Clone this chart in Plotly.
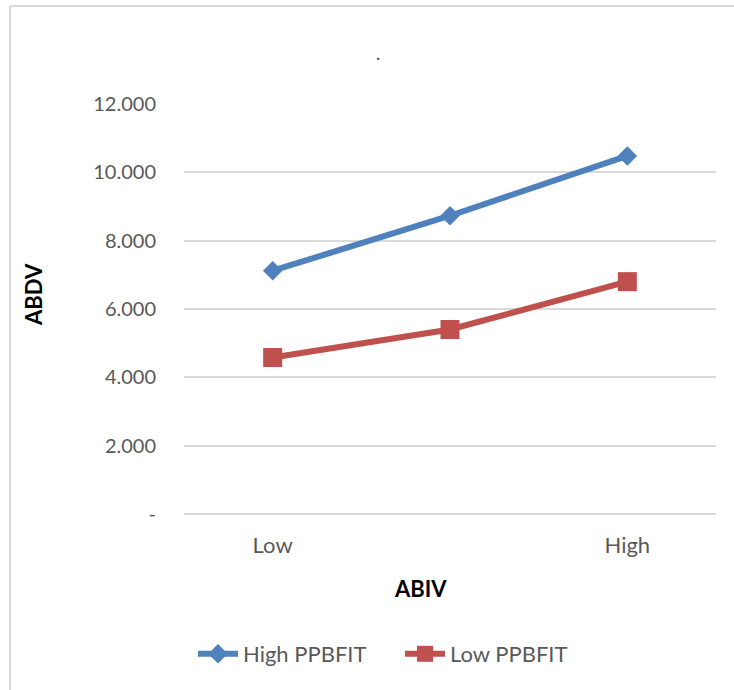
import plotly.graph_objects as go

categories = ["Low", "", "High"]
x_positions = [0, 1, 2]
high_ppbfit = [7.12, 8.73, 10.48]
low_ppbfit = [4.58, 5.40, 6.80]
y_tickvals = [0, 2, 4, 6, 8, 10, 12]
y_ticktext = ["-", "2.000", "4.000", "6.000", "8.000", "10.000", "12.000"]

W, H = 734, 690
L, R, T, B = 184, 716, 104, 514


def px(x):
    return (x - L) / (R - L)


def py(y):
    return (B - y) / (B - T)


FONT = "Lato"
GREY = "#595959"

fig = go.Figure()
fig.add_trace(go.Scatter(
    x=x_positions, y=high_ppbfit, name="High PPBFIT", mode="lines+markers",
    line=dict(color="#4F81BD", width=6),
    marker=dict(symbol="diamond", size=15, color="#4F81BD"),
))
fig.add_trace(go.Scatter(
    x=x_positions, y=low_ppbfit, name="Low PPBFIT", mode="lines+markers",
    line=dict(color="#C0504D", width=6),
    marker=dict(symbol="square", size=19, color="#C0504D"),
))

fig.update_layout(
    width=W, height=H,
    margin=dict(l=L, r=W - R, t=T, b=H - B),
    paper_bgcolor="white", plot_bgcolor="white",
    font=dict(family=FONT, size=20, color=GREY),
    title=dict(text=".", xref="paper", x=px(378), xanchor="center",
               yref="container", y=1 - 53 / H, yanchor="middle",
               font=dict(family=FONT, size=20, color=GREY)),
    showlegend=True,
    legend=dict(orientation="h", x=px(400), xanchor="center", y=py(654), yanchor="middle",
                font=dict(family=FONT, size=22, color=GREY), itemwidth=40,
                entrywidth=152, entrywidthmode="pixels",
                bgcolor="rgba(0,0,0,0)"),
    xaxis=dict(range=[-0.5, 2.5], tickvals=x_positions, ticktext=categories,
               tickfont=dict(family=FONT, size=22, color=GREY),
               showgrid=False, zeroline=False, showline=False, ticks="",
               ticklabelstandoff=16, fixedrange=True),
    yaxis=dict(range=[0, 12], tickvals=y_tickvals, ticktext=y_ticktext,
               tickfont=dict(family=FONT, size=20, color=GREY),
               showgrid=True, gridcolor="#d9d9d9", gridwidth=1.5,
               zeroline=True, zerolinecolor="#d9d9d9", zerolinewidth=1.5,
               showline=False, ticks="", ticklabelstandoff=27, fixedrange=True),
    annotations=[
        dict(text="<b>ABDV</b>", xref="paper", yref="paper", x=px(33), y=py(295),
             textangle=-90, showarrow=False, xanchor="center", yanchor="middle",
             font=dict(family=FONT, size=22, color="black")),
        dict(text="<b>ABIV</b>", xref="paper", yref="paper", x=px(420), y=py(588),
             showarrow=False, xanchor="center", yanchor="middle",
             font=dict(family=FONT, size=22, color="black")),
    ],
    shapes=[
        dict(type="line", xref="paper", yref="paper", x0=px(10), x1=px(10), y0=py(6), y1=py(700),
             line=dict(color="#d9d9d9", width=2)),
        dict(type="line", xref="paper", yref="paper", x0=px(10), x1=px(740), y0=py(6), y1=py(6),
             line=dict(color="#d9d9d9", width=2)),
    ],
)

fig.write_html("out.html", config={"displayModeBar": False},
               post_script="document.body.style.margin='0';")
